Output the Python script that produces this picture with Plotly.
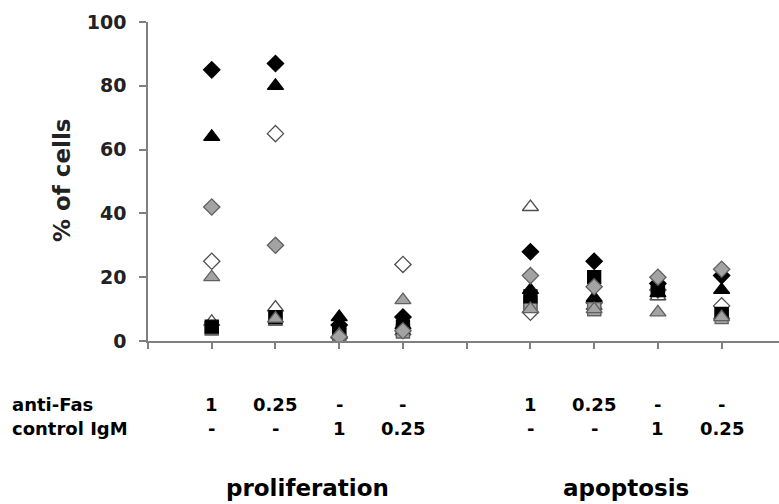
import plotly.graph_objects as go

# ---- data ----
group_pos = [1, 2, 3, 4, 6, 7, 8, 9]
anti_fas = ["1", "0.25", "-", "-", "1", "0.25", "-", "-"]
control_igm = ["-", "-", "1", "0.25", "-", "-", "1", "0.25"]
sections = ["proliferation", "apoptosis"]
row_names = ["anti-Fas", "control IgM"]

white_triangle = [6, 10.5, 2, 3, 42, 11, 14, 8]
white_square = [4, 7, 2, 3, 12, 10, 15, 9]
white_diamond = [25, 65, 1, 24, 9, 12, 16, 11]
grey_square = [4, 7, 2, 3, 11, 10, 16, 7.5]
black_square = [4.5, 7.5, 3, 4.5, 14, 20, 16, 8.5]
black_triangle = [64, 80, 7.5, 5, 16, 13.5, 15, 16]
black_diamond = [85, 87, 5, 7.5, 28, 25, 18, 20.5]
grey_triangle = [20, 7, 2, 12.8, 10, 10, 9, 7.5]
grey_diamond = [42, 30, 1.3, 3.2, 20.5, 17, 20, 22.5]

y_ticks = [0, 20, 40, 60, 80, 100]

GREY = "#a3a3a3"
GREY_LINE = "#606060"
WHITE_LINE = "#505050"

series = [
    (white_triangle, "triangle-up", "white", WHITE_LINE),
    (white_square, "square", "white", WHITE_LINE),
    (white_diamond, "diamond", "white", WHITE_LINE),
    (grey_square, "square", GREY, GREY_LINE),
    (black_square, "square", "black", "black"),
    (black_triangle, "triangle-up", "black", "black"),
    (black_diamond, "diamond", "black", "black"),
    (grey_triangle, "triangle-up", GREY, GREY_LINE),
    (grey_diamond, "diamond", GREY, GREY_LINE),
]
sizes = {"diamond": 12.5, "triangle-up": 14, "square": 13}

FONT = "DejaVu Sans, Arial, sans-serif"

fig = go.Figure()
for vals, sym, fill, line in series:
    fig.add_trace(go.Scatter(
        x=group_pos, y=vals, mode="markers",
        marker=dict(symbol=sym, size=sizes[sym], color=fill,
                    line=dict(color=line, width=1.3)),
        showlegend=False, hoverinfo="skip"))

font_b = dict(family=FONT, size=18, color="black")
row_y = [-0.20, -0.273]

for name, ry in zip(row_names, row_y):
    fig.add_annotation(x=-0.218, y=ry, xref="paper", yref="paper", text="<b>%s</b>" % name,
                       showarrow=False, xanchor="left", yanchor="middle", font=font_b)
for xp, a, c in zip(group_pos, anti_fas, control_igm):
    for txt, ry in ((a, row_y[0]), (c, row_y[1])):
        fig.add_annotation(x=xp, y=ry, xref="x", yref="paper", text="<b>%s</b>" % txt,
                           showarrow=False, xanchor="center", yanchor="middle", font=font_b)

sec_x = [sum(group_pos[:4]) / 4, sum(group_pos[4:]) / 4]
for sx, name in zip(sec_x, sections):
    fig.add_annotation(x=sx, y=-0.462, xref="x", yref="paper", text="<b>%s</b>" % name,
                       showarrow=False, xanchor="center", yanchor="middle",
                       font=dict(family=FONT, size=23, color="black"))

# y-axis title
fig.add_annotation(x=-0.136, y=0.505, xref="paper", yref="paper", text="<b>% of cells</b>",
                   textangle=-90, showarrow=False, xanchor="center", yanchor="middle",
                   font=dict(family=FONT, size=23, color="#222222"))

fig.update_layout(
    width=779, height=504,
    margin=dict(l=148, r=0, t=22, b=163, autoexpand=False),
    paper_bgcolor="white", plot_bgcolor="white",
    xaxis=dict(range=[0, 9.9], showgrid=False, zeroline=False, showline=True,
               linecolor="#808080", linewidth=1.5, ticks="outside", ticklen=6,
               tickcolor="#808080", tickwidth=1.5, tickvals=list(range(0, 10)),
               showticklabels=False),
    yaxis=dict(range=[0, 100], showgrid=False, zeroline=False, showline=True,
               linecolor="#808080", linewidth=1.5, ticks="outside", ticklen=7,
               tickcolor="#808080", tickwidth=1.5, tickvals=y_ticks,
               ticktext=["<b>%d</b>" % v for v in y_ticks], ticklabelstandoff=9,
               tickfont=dict(family=FONT, size=19, color="#222222")),
)

fig.write_html("out.html", config={"displayModeBar": False},
               post_script="document.body.style.margin='0';")
